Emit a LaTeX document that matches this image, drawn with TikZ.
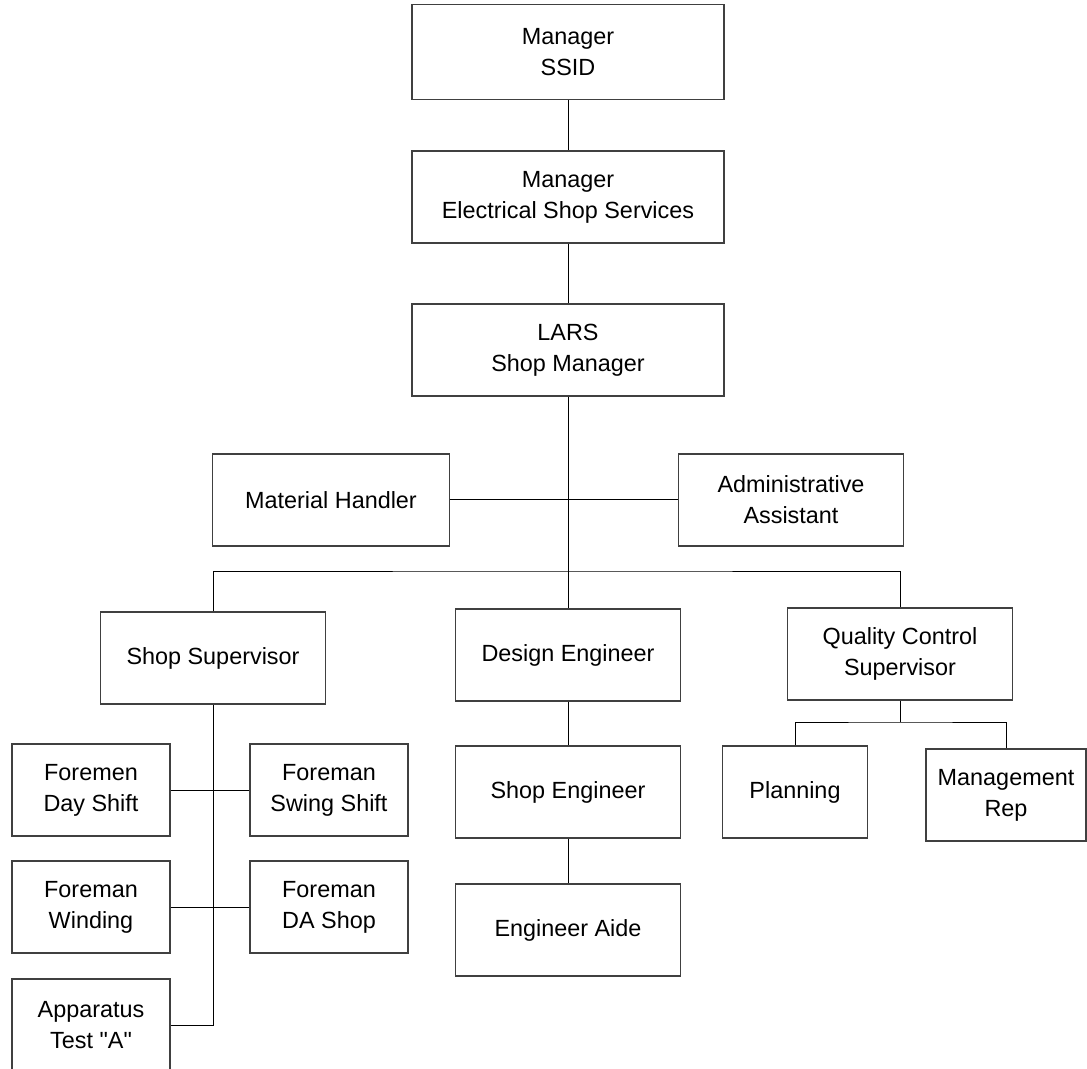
\documentclass[tikz,border=0pt]{standalone}
\usepackage{fontspec}
\setmainfont{Liberation Sans}
\tikzset{%
  orgbox/.style={draw=black!75,line width=0.6pt,align=center,inner sep=0,minimum height=46pt,font=\fontsize{11.7}{15.5}\selectfont},
  widebox/.style={orgbox,minimum width=156pt},
  midbox/.style={orgbox,minimum width=112.5pt},
  smallbox/.style={orgbox,minimum width=79pt},
  link/.style={draw=black,line width=0.5pt}
}
\begin{document}
\begin{tikzpicture}[x=0.5pt,y=-0.5pt]
      \useasboundingbox (0,0) rectangle (1087,1069);
      \path
        (568,52) node[widebox,minimum height=47.5pt] (ssid) {Manager\\SSID}
        (568,197) node[widebox] (ess) {Manager\\Electrical Shop Services}
        (568,350) node[widebox] (lars) {LARS\\Shop Manager}
        (331,500) node[orgbox,minimum width=118.5pt] (mat) {Material Handler}
        (791,500) node[midbox] (admin) {Administrative\\Assistant}
        (213,658) node[midbox] (shopsup) {Shop Supervisor}
        (568,655) node[midbox] (design) {Design Engineer}
        (900,654) node[midbox] (qc) {Quality Control\\Supervisor}
        (568,792) node[midbox] (shopeng) {Shop Engineer}
        (568,930) node[midbox] (aide) {Engineer Aide}
        (795,792) node[orgbox,minimum width=72.5pt] (planning) {Planning}
        (1006,795) node[orgbox,minimum width=80pt] (mgmtrep) {Management\\Rep}
        (91,790) node[smallbox] (dayshift) {Foremen\\Day Shift}
        (329,790) node[smallbox] (swing) {Foreman\\Swing Shift}
        (91,907) node[smallbox] (winding) {Foreman\\Winding}
        (329,907) node[smallbox] (dashop) {Foreman\\DA Shop}
        (91,1025) node[smallbox] (apparatus) {Apparatus\\Test \textquotedbl A\textquotedbl};
      \coordinate (bus) at (568,571);
      \coordinate (qcbus) at (900,722);
      \draw[link] (ssid) -- (ess) -- (lars) -- (design) -- (shopeng) -- (aide);
      \draw[link] (mat) -- (admin);
      \draw[link] (shopsup.north) |- (bus) -| (qc.north);
      \draw[link] (qc.south) -- (qcbus);
      \draw[link] (planning.north) |- (qcbus) -| (mgmtrep.north);
      \draw[link] (shopsup.south) |- (apparatus.east);
      \draw[link] (dayshift) -- (swing);
      \draw[link] (winding) -- (dashop);
    \end{tikzpicture}
\end{document}
